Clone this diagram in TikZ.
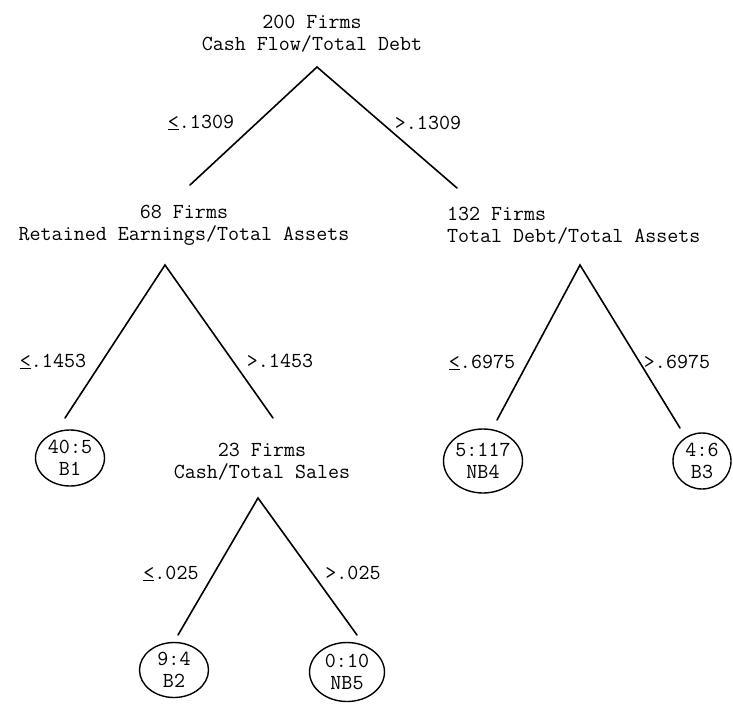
\documentclass[tikz,border=0pt]{standalone}
\usepackage{fontspec}
\usetikzlibrary{shapes.geometric}
\begin{document}
\begin{tikzpicture}[x=1pt,y=-1pt,line cap=round,
  txt/.style={inner sep=0, outer sep=0, custcol_0_0_0, font=\treefont},
  cut/.style={inner sep=0, outer sep=0, custcol_0_0_0, font=\treefont, anchor=base},
  leaf/.style={ellipse, draw, line width=1.4pt, inner sep=0, custcol_0_0_0, font=\treefont, align=center},
  branch/.style={line width=1.6pt, custcol_0_0_0}]
\def\treefont{\fontsize{21.4pt}{22pt}\selectfont\ttfamily\addfontfeature{FakeBold=1.2}} % typewriter look of the scan
\def\lecut{\underline{<}}
\definecolor{custcol_0_0_0}{RGB}{0, 0, 0}
\useasboundingbox (0,0) rectangle (733,707);
% split nodes
\node[txt, align=center] (cfd) at (312,34) {200 Firms\\Cash Flow/Total Debt};
\node[txt, align=center] (reta) at (184,225) {68 Firms\\Retained Earnings/Total Assets};
\node[txt, align=left, anchor=west] (tdta) at (447,226) {132 Firms\\Total Debt/Total Assets};
\node[txt, align=center] (cts) at (262,462) {23 Firms\\Cash/Total Sales};
% leaves
\node[leaf, minimum width=69, minimum height=56] (b1) at (70,458) {40:5\\B1};
\node[leaf, minimum width=69, minimum height=55] (b2) at (174,670) {9:4\\B2};
\node[leaf, minimum width=75, minimum height=59] (nb5) at (347,672) {0:10\\NB5};
\node[leaf, minimum width=79, minimum height=64] (nb4) at (483,461) {5:117\\NB4};
\node[leaf, minimum width=58, minimum height=56] (b3) at (702,461) {4:6\\B3};
% branch ends
\coordinate (cfd-top) at (317,67);
\coordinate (cfd-l) at (190,185);
\coordinate (cfd-r) at (457,188);
\coordinate (reta-top) at (165,265);
\coordinate (reta-l) at (65,418);
\coordinate (reta-r) at (273,418);
\coordinate (tdta-top) at (580,265);
\coordinate (tdta-l) at (497,420);
\coordinate (tdta-r) at (680,428);
\coordinate (cts-top) at (258,498);
\coordinate (cts-l) at (178,635);
\coordinate (cts-r) at (357,635);
\draw [branch] (cfd-l) -- (cfd-top) -- (cfd-r);
\draw [branch] (reta-l) -- (reta-top) -- (reta-r);
\draw [branch] (tdta-l) -- (tdta-top) -- (tdta-r);
\draw [branch] (cts-l) -- (cts-top) -- (cts-r);
% cut values
\node[cut] (cfd-lo) at (201,128) {\lecut.1309};
\node[cut] (cfd-hi) at (428,129) {>.1309};
\node[cut] (reta-lo) at (53,367) {\lecut.1453};
\node[cut] (reta-hi) at (280,367) {>.1453};
\node[cut] (tdta-lo) at (482,368) {\lecut.6975};
\node[cut] (tdta-hi) at (677,368) {>.6975};
\node[cut] (cts-lo) at (171,579) {\lecut.025};
\node[cut] (cts-hi) at (353,579) {>.025};
\end{tikzpicture}
\end{document}
